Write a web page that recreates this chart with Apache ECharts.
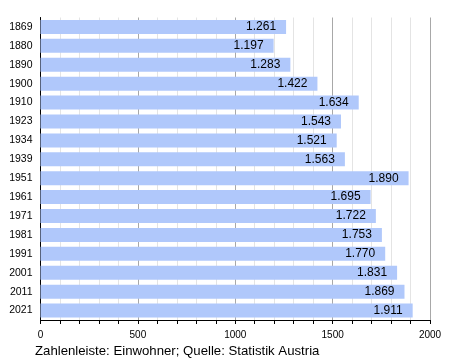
<!DOCTYPE html>
<html><head><meta charset="utf-8">
<script src="https://cdn.jsdelivr.net/npm/echarts@6/dist/echarts.min.js"></script>
<style>html,body{margin:0;padding:0;background:#fff}#c{width:450px;height:360px}</style>
</head><body><div id="c"></div>
<script>
const years = ["1869","1880","1890","1900","1910","1923","1934","1939","1951","1961","1971","1981","1991","2001","2011","2021"];
const population = [1261,1197,1283,1422,1634,1543,1521,1563,1890,1695,1722,1753,1770,1831,1869,1911];
const footerText = "Zahlenleiste: Einwohner; Quelle: Statistik Austria";
const fmt = v => { const s = String(v); return s.length > 3 ? s.slice(0, s.length-3) + "." + s.slice(-3) : s; };
const chart = echarts.init(document.getElementById('c'), null, {renderer:'canvas'});
chart.setOption({
  animation:false,
  backgroundColor:'#ffffff',
  textStyle:{fontFamily:'Liberation Sans'},
  grid:{left:40.5,right:20,top:17.5,bottom:40,containLabel:false},
  graphic:[{type:'text',left:35,top:345,style:{text:footerText,fontSize:13.2,fill:'#000',fontFamily:'Liberation Sans'}}],
  xAxis:{type:'value',min:0,max:2000,interval:500,
    axisLine:{show:true,lineStyle:{color:'#000',width:1}},
    axisTick:{show:true,length:4,lineStyle:{color:'#000'}},
    minorTick:{show:true,splitNumber:5,length:4,lineStyle:{color:'#000'}},
    axisLabel:{fontSize:10,color:'#000',margin:10,fontFamily:'Liberation Sans',formatter:v=>String(v)},
    splitLine:{show:true,lineStyle:{color:'#a8a8a8',width:1}},
    minorSplitLine:{show:true,lineStyle:{color:'#e4e4e4',width:1}}},
  yAxis:{type:'category',data:years,inverse:true,
    axisLine:{show:true,lineStyle:{color:'#000',width:1}},
    axisTick:{show:false},
    axisLabel:{fontSize:10.5,color:'#000',margin:8,fontFamily:'Liberation Sans'},
    splitLine:{show:false}},
  series:[{type:'bar',data:population,barWidth:14,
    itemStyle:{color:'#b0c8fb'},
    label:{show:true,position:'insideRight',distance:10,color:'#000',fontSize:12,fontFamily:'Liberation Sans',formatter:p=>fmt(p.value)}}]
});
</script></body></html>
